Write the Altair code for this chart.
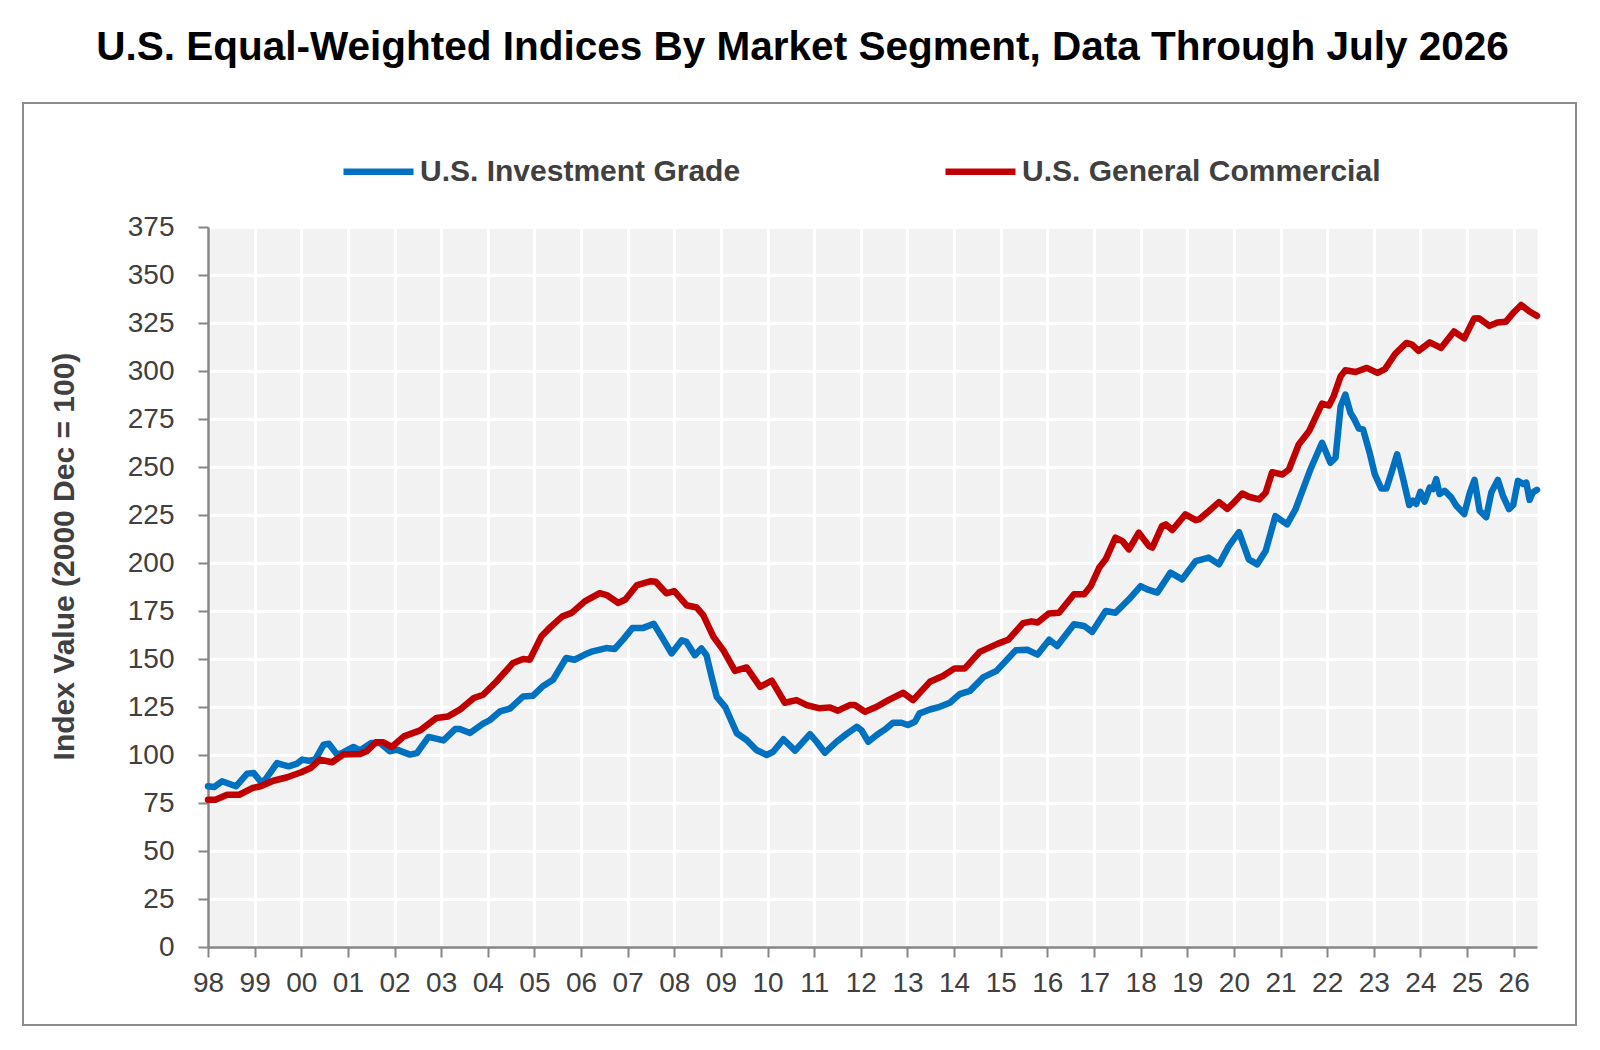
import altair as alt
import pandas as pd

# ---- data (decimal year, index value) ----
ig_year = [1998.00, 1998.13, 1998.30, 1998.60, 1998.84, 1998.98, 1999.14, 1999.23, 1999.48, 1999.59,
           1999.73, 1999.91, 2000.02, 2000.16, 2000.30, 2000.48, 2000.59, 2000.77, 2000.87, 2001.12,
           2001.26, 2001.50, 2001.69, 2001.90, 2002.05, 2002.33, 2002.48, 2002.73, 2003.05, 2003.30,
           2003.40, 2003.62, 2003.90, 2004.04, 2004.26, 2004.47, 2004.76, 2004.97, 2005.18, 2005.40,
           2005.68, 2005.86, 2006.08, 2006.25, 2006.54, 2006.72, 2006.90, 2007.10, 2007.32, 2007.56,
           2007.73, 2007.94, 2008.16, 2008.26, 2008.44, 2008.58, 2008.69, 2008.80, 2008.91, 2009.09,
           2009.34, 2009.55, 2009.76, 2009.98, 2010.12, 2010.34, 2010.59, 2010.91, 2011.05, 2011.23,
           2011.48, 2011.69, 2011.91, 2012.01, 2012.16, 2012.34, 2012.55, 2012.69, 2012.87, 2013.01,
           2013.16, 2013.26, 2013.48, 2013.69, 2013.91, 2014.12, 2014.34, 2014.62, 2014.91, 2015.09,
           2015.32, 2015.57, 2015.79, 2016.04, 2016.21, 2016.57, 2016.79, 2016.96, 2017.25, 2017.46,
           2017.75, 2018.00, 2018.14, 2018.36, 2018.64, 2018.89, 2019.18, 2019.46, 2019.68, 2019.89,
           2020.11, 2020.32, 2020.50, 2020.68, 2020.89, 2021.14, 2021.32, 2021.64, 2021.89, 2022.07,
           2022.18, 2022.29, 2022.39, 2022.50, 2022.58, 2022.68, 2022.77, 2022.91, 2023.02, 2023.16,
           2023.27, 2023.38, 2023.50, 2023.63, 2023.76, 2023.84, 2023.91, 2024.00, 2024.09, 2024.20,
           2024.27, 2024.34, 2024.41, 2024.52, 2024.66, 2024.77, 2024.94, 2025.06, 2025.16, 2025.27,
           2025.41, 2025.52, 2025.66, 2025.77, 2025.90, 2025.99, 2026.09, 2026.20, 2026.27, 2026.34,
           2026.41, 2026.50]
ig_value = [83.7, 83.3, 86.3, 83.7, 90.3, 90.6, 85.8, 87.2, 95.8, 95.0,
            94.1, 95.5, 97.6, 97.0, 97.6, 105.4, 105.9, 100.2, 101.0, 104.2,
            102.4, 106.2, 106.2, 101.9, 102.8, 100.2, 101.0, 109.4, 107.6, 113.5,
            113.5, 111.5, 116.3, 118.1, 122.7, 124.1, 130.5, 130.9, 135.8, 139.2,
            150.5, 149.6, 152.3, 154.0, 155.7, 155.2, 160.1, 166.1, 166.1, 168.3,
            161.5, 152.9, 159.8, 158.9, 152.0, 155.5, 152.0, 140.7, 130.3, 125.1,
            111.3, 107.8, 102.6, 100.0, 101.7, 108.2, 102.3, 110.9, 106.9, 101.2,
            106.9, 110.9, 114.7, 113.0, 106.9, 110.4, 113.9, 116.8, 116.8, 115.6,
            117.3, 121.7, 123.7, 125.1, 127.2, 131.7, 133.4, 140.4, 143.8, 148.5,
            154.5, 154.8, 152.3, 160.0, 156.8, 168.1, 167.2, 164.1, 175.0, 174.1,
            181.1, 188.0, 186.3, 184.6, 195.0, 191.5, 201.0, 202.8, 199.3, 208.8,
            216.1, 201.9, 199.3, 206.2, 224.4, 220.1, 227.9, 248.7, 262.6, 252.2,
            254.8, 281.7, 287.7, 278.2, 275.0, 270.0, 269.6, 257.5, 246.3, 238.8,
            238.8, 247.1, 256.6, 243.7, 230.2, 232.4, 230.7, 237.1, 231.9, 239.3,
            238.5, 243.7, 235.9, 237.6, 234.2, 229.8, 225.5, 236.7, 243.3, 227.2,
            223.8, 236.7, 243.3, 235.0, 228.1, 230.2, 242.8, 241.1, 241.9, 232.9,
            236.7, 238.1]

gc_year = [1998.00, 1998.16, 1998.41, 1998.67, 1998.95, 1999.13, 1999.40, 1999.70, 2000.00, 2000.20,
           2000.40, 2000.66, 2000.90, 2001.26, 2001.40, 2001.60, 2001.76, 2001.94, 2002.20, 2002.55,
           2002.90, 2003.15, 2003.40, 2003.70, 2003.90, 2004.19, 2004.54, 2004.76, 2004.90, 2005.15,
           2005.36, 2005.60, 2005.80, 2006.08, 2006.40, 2006.55, 2006.80, 2006.95, 2007.20, 2007.50,
           2007.60, 2007.83, 2008.00, 2008.26, 2008.48, 2008.62, 2008.84, 2009.05, 2009.30, 2009.55,
           2009.84, 2010.09, 2010.37, 2010.62, 2010.84, 2011.12, 2011.34, 2011.51, 2011.76, 2011.87,
           2012.09, 2012.34, 2012.59, 2012.91, 2013.12, 2013.48, 2013.76, 2014.01, 2014.23, 2014.55,
           2014.94, 2015.16, 2015.48, 2015.66, 2015.79, 2016.03, 2016.25, 2016.57, 2016.79, 2016.93,
           2017.11, 2017.25, 2017.46, 2017.61, 2017.75, 2017.96, 2018.18, 2018.25, 2018.46, 2018.54,
           2018.68, 2018.96, 2019.18, 2019.25, 2019.46, 2019.68, 2019.86, 2019.96, 2020.18, 2020.32,
           2020.54, 2020.68, 2020.82, 2021.04, 2021.18, 2021.39, 2021.61, 2021.89, 2022.04, 2022.14,
           2022.29, 2022.39, 2022.61, 2022.85, 2023.08, 2023.24, 2023.46, 2023.70, 2023.82, 2023.96,
           2024.20, 2024.44, 2024.72, 2024.94, 2025.15, 2025.25, 2025.48, 2025.65, 2025.83, 2026.00,
           2026.16, 2026.34, 2026.50]
gc_value = [76.7, 76.7, 79.3, 79.3, 82.8, 83.7, 86.6, 88.4, 91.0, 93.2,
            97.6, 96.2, 100.2, 100.5, 101.9, 106.6, 106.6, 104.2, 109.7, 112.8,
            119.3, 120.1, 123.6, 129.7, 131.4, 138.4, 147.9, 150.0, 149.6, 161.8,
            167.0, 172.2, 174.0, 180.0, 184.3, 183.3, 179.2, 181.0, 188.5, 190.5,
            190.2, 184.2, 185.3, 178.0, 176.8, 172.8, 161.5, 154.6, 143.8, 145.6,
            135.5, 138.7, 127.2, 128.6, 126.0, 124.3, 124.8, 123.1, 126.0, 126.0,
            122.5, 125.1, 128.6, 132.4, 128.6, 138.1, 141.1, 145.1, 145.1, 153.7,
            158.0, 160.0, 168.7, 169.6, 169.0, 173.7, 174.1, 183.7, 183.7, 188.0,
            197.5, 201.9, 213.2, 211.4, 207.1, 215.8, 208.8, 208.0, 219.3, 220.1,
            217.2, 225.3, 222.3, 222.7, 227.0, 231.7, 228.2, 230.5, 236.2, 234.5,
            233.1, 236.6, 247.3, 246.1, 248.7, 261.7, 268.6, 283.0, 282.0, 286.9,
            297.3, 300.4, 299.5, 301.6, 299.0, 301.0, 309.0, 314.6, 313.7, 310.5,
            314.9, 312.0, 320.6, 317.0, 327.3, 327.5, 323.5, 325.3, 325.6, 330.5,
            334.4, 331.0, 328.7]

IG = "U.S. Investment Grade"
GC = "U.S. General Commercial"
series_names = [IG, GC]
series_colors = ["#0070C0", "#C00000"]
year_ticks = list(range(1998, 2027))
value_ticks = list(range(0, 376, 25))

df = pd.DataFrame({
    "series": [IG] * len(ig_year) + [GC] * len(gc_year),
    "year": ig_year + gc_year,
    "value": ig_value + gc_value,
})

FONT = "Liberation Sans"

color = alt.Color(
    "series:N",
    scale=alt.Scale(domain=series_names, range=series_colors),
    legend=alt.Legend(
        title=None, orient="none", legendX=132, legendY=-94, direction="horizontal",
        symbolType="stroke", symbolSize=4900, symbolStrokeWidth=6.5,
        labelFont=FONT, labelFontSize=30, labelFontWeight="bold", labelColor="#404040",
        labelOffset=3, labelLimit=800, columnPadding=191, padding=0,
    ),
)
x = alt.X(
    "year:Q",
    scale=alt.Scale(domain=[1998, 2026.5], nice=False, zero=False),
    axis=alt.Axis(values=year_ticks, labelExpr="substring(toString(datum.value), 2, 4)",
                  labelPadding=12, labelOverlap=False, labelFlush=False, title=None),
)
y = alt.Y(
    "value:Q",
    scale=alt.Scale(domain=[0, 375], nice=False),
    axis=alt.Axis(values=value_ticks, labelPadding=24, labelOverlap=False,
                  title="Index Value (2000 Dec = 100)", titleX=-144, titleY=329,
                  titleAngle=270, titleAlign="center", titleBaseline="middle"),
)

base = alt.Chart(df)
ig_line = base.transform_filter(alt.datum.series == IG).mark_line(
    strokeWidth=6.5, strokeJoin="round", strokeCap="round").encode(x=x, y=y, color=color)
gc_line = base.transform_filter(alt.datum.series == GC).mark_line(
    strokeWidth=6.5, strokeJoin="round", strokeCap="round").encode(x=x, y=y, color=color)

frame = alt.Chart(pd.DataFrame({"f": [0]})).mark_rect(
    filled=False, color="#8c8c8c", strokeWidth=2).encode(
    x=alt.value(-185), x2=alt.value(1368), y=alt.value(-124), y2=alt.value(798))

chart = alt.layer(frame, ig_line, gc_line).properties(
    width=1329, height=720,
    title=alt.TitleParams(
        text="U.S. Equal-Weighted Indices By Market Segment, Data Through July 2026",
        font=FONT, fontSize=40.5, fontWeight="bold", color="#000000",
        anchor="middle", offset=34, dx=-70),
    padding={"left": 200, "top": 219, "right": 50, "bottom": 90},
    autosize=alt.AutoSizeParams(type="none"),
).configure_view(
    stroke="transparent", fill="#f2f2f2"
).configure_axis(
    labelFont=FONT, labelFontSize=28, labelColor="#404040",
    domainColor="#868686", domainWidth=2.5,
    tickColor="#868686", tickWidth=2, tickSize=10,
    gridColor="#ffffff", gridWidth=3,
    titleFont=FONT, titleFontSize=30, titleFontWeight="bold", titleColor="#404040",
)

chart.save("out.html", embed_options={"renderer": "svg", "actions": False})
